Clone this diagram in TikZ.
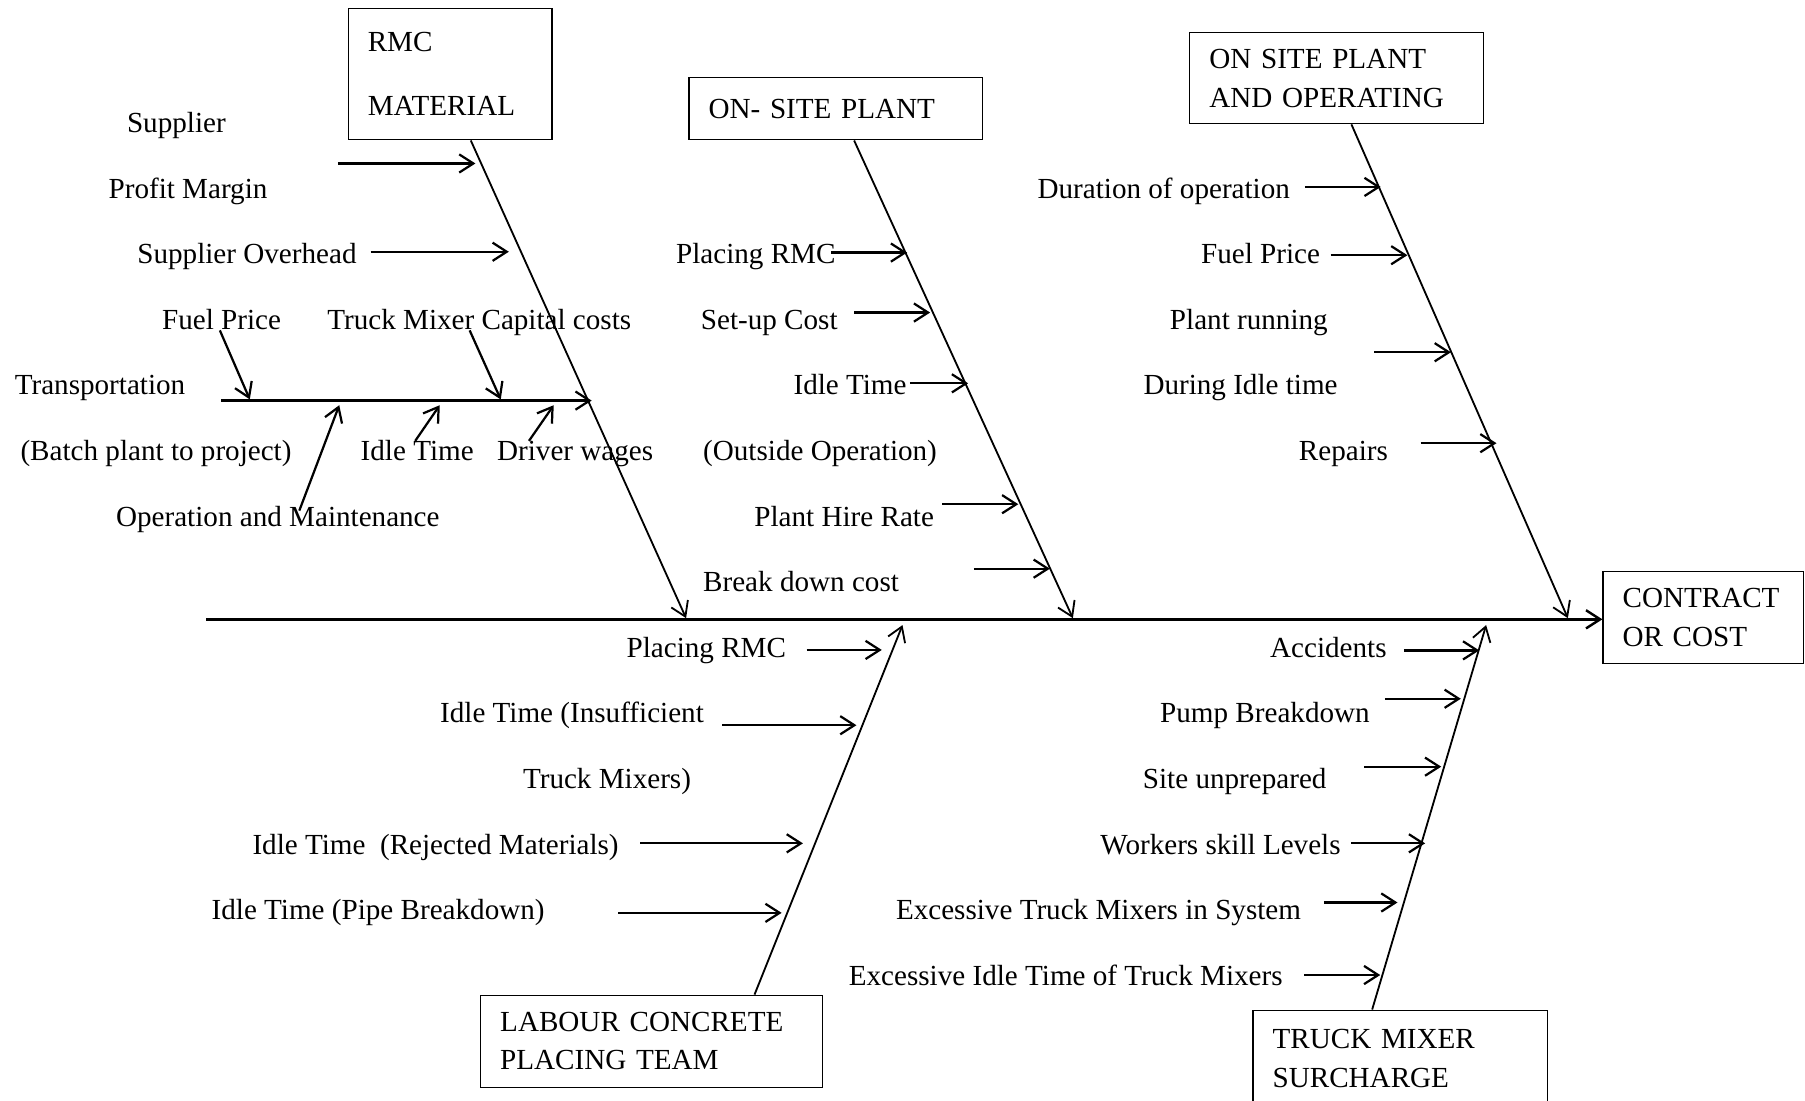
\documentclass[tikz,border=0pt]{standalone}
\usepackage{fontspec}
\setmainfont{Liberation Serif}
\usetikzlibrary{arrows.meta}

\begin{document}
\begin{tikzpicture}[x=0.02cm,y=-0.02cm,font=\fontsize{14.4}{19}\selectfont,every node/.style={inner sep=0pt},box/.style={draw, line width=0.6pt, anchor=north west, align=left, inner xsep=0.34cm},lbl/.style={anchor=base west},bone/.style={line width=0.9pt, -{Straight Barb[length=7pt,width=9pt]}},cause/.style={line width=1.1pt, -{Straight Barb[length=7pt,width=9pt]}},spine/.style={line width=1.2pt, -{Straight Barb[length=7pt,width=9pt]}}]
\useasboundingbox (0,0) rectangle (1568,956);
\node[box, text width=2.86cm, minimum height=2.28cm] (rmc) at (302,7) {RMC\\[12.7pt]MATERIAL};
\node[box, text width=4.42cm, minimum height=1.08cm] (osp) at (598,67) {ON- SITE PLANT};
\node[box, text width=4.42cm, minimum height=1.58cm] (opr) at (1033,28) {ON SITE PLANT\\AND OPERATING};
\node[box, text width=2.80cm, minimum height=1.6cm] (cost) at (1392,496) {CONTRACT\\OR COST};
\node[box, text width=5.26cm, minimum height=1.6cm] (lab) at (417,864) {LABOUR CONCRETE\\PLACING TEAM};
\node[box, text width=4.44cm, minimum height=1.68cm] (tmx) at (1088,877) {TRUCK MIXER\\SURCHARGE};
\coordinate (tail) at (179,538);
\coordinate (h1) at (596,537);
\coordinate (h2) at (932,537);
\coordinate (h3) at (1362,537);
\coordinate (h4) at (784,543);
\coordinate (h5) at (1291,543);
\draw[spine] (tail) -- (tail -| cost.west);
\draw[bone] ([xshift=2.14cm]rmc.south west) -- (h1);
\draw[bone] ([xshift=2.88cm]osp.south west) -- (h2);
\draw[bone] ([xshift=2.82cm]opr.south west) -- (h3);
\draw[bone] ([xshift=4.77cm]lab.north west) -- (h4);
\draw[bone] ([xshift=2.08cm]tmx.north west) -- (h5);

\node[lbl] (m1) at (110,115.5) {Supplier};
\node[lbl] (m2) at (94,172.5) {Profit Margin};
\node[lbl] (m3) at (119,229) {Supplier Overhead};
\node[lbl] (m4) at (140.5,286) {Fuel Price};
\node[lbl] (m5) at (284,286) {Truck Mixer Capital costs};
\node[lbl] (m6) at (12.5,343) {Transportation};
\node[lbl] (m7) at (17.5,400) {(Batch plant to project)};
\node[lbl] (m8) at (313,400) {Idle Time};
\node[lbl] (m9) at (431.5,400) {Driver wages};
\node[lbl] (m10) at (100.5,457) {Operation and Maintenance};
\coordinate (tr) at (192,348);
\coordinate (trh) at (514,348);
\draw[cause] (293.6,142) -- (413,142);
\draw[cause] (322,218.7) -- (442,218.7);
\draw[cause] (tr) -- (trh);
\draw[cause] (191,287) -- (217,347);
\draw[cause] (408,287) -- (435,347);
\draw[cause] (260,443.6) -- (294.7,352);
\draw[cause] (360.7,383) -- (382,352);
\draw[cause] (459.5,383) -- (481,352);

\node[lbl] (p1) at (587,229) {Placing RMC};
\node[lbl] (p2) at (608.5,286) {Set-up Cost};
\node[lbl] (p3) at (689,343) {Idle Time};
\node[lbl] (p4) at (610.5,400) {(Outside Operation)};
\node[lbl] (p5) at (655,457) {Plant Hire Rate};
\node[lbl] (p6) at (610.5,514) {Break down cost};
\draw[cause] (722,219.4) -- (788,219.4);
\draw[cause] (742,271.5) -- (808,271.5);
\draw[cause] (790.5,333) -- (841,333);
\draw[cause] (818.5,438) -- (884.6,438);
\draw[cause] (846,494) -- (912,494);

\node[lbl] (o1) at (901,172.5) {Duration of operation};
\node[lbl] (o2) at (1043,229) {Fuel Price};
\node[lbl] (o3) at (1016,286) {Plant running};
\node[lbl] (o4) at (993,343) {During Idle time};
\node[lbl] (o5) at (1128,400) {Repairs};
\draw[cause] (1133.6,162.4) -- (1199.4,162.4);
\draw[cause] (1156,221.7) -- (1222.6,221.7);
\draw[cause] (1194,306) -- (1260.4,306);
\draw[cause] (1234,385) -- (1300,385);

\node[lbl] (c1) at (544,571) {Placing RMC};
\node[lbl] (c2) at (382,628) {Idle Time (Insufficient};
\node[lbl] (c3) at (454,685) {Truck Mixers)};
\node[lbl] (c4) at (219,742) {Idle Time~ (Rejected Materials)};
\node[lbl] (c5) at (183.5,799) {Idle Time (Pipe Breakdown)};
\draw[cause] (700.7,564.6) -- (766,564.6);
\draw[cause] (627.5,630) -- (744,630);
\draw[cause] (556,732.6) -- (697.5,732.6);
\draw[cause] (537,793) -- (679,793);

\node[lbl] (t1) at (1103,571) {Accidents};
\node[lbl] (t2) at (1007.5,628) {Pump Breakdown};
\node[lbl] (t3) at (992.5,685) {Site unprepared};
\node[lbl] (t4) at (955.5,742) {Workers skill Levels};
\node[lbl] (t5) at (778,799) {Excessive Truck Mixers in System};
\node[lbl] (t6) at (737,856) {Excessive Idle Time of Truck Mixers};
\draw[cause] (1219.6,565) -- (1285,565);
\draw[cause] (1203,607) -- (1269,607);
\draw[cause] (1185,666) -- (1252,666);
\draw[cause] (1174,732.6) -- (1238,732.6);
\draw[cause] (1150,784) -- (1214,784);
\draw[cause] (1133,847) -- (1199,847);
\end{tikzpicture}
\end{document}
